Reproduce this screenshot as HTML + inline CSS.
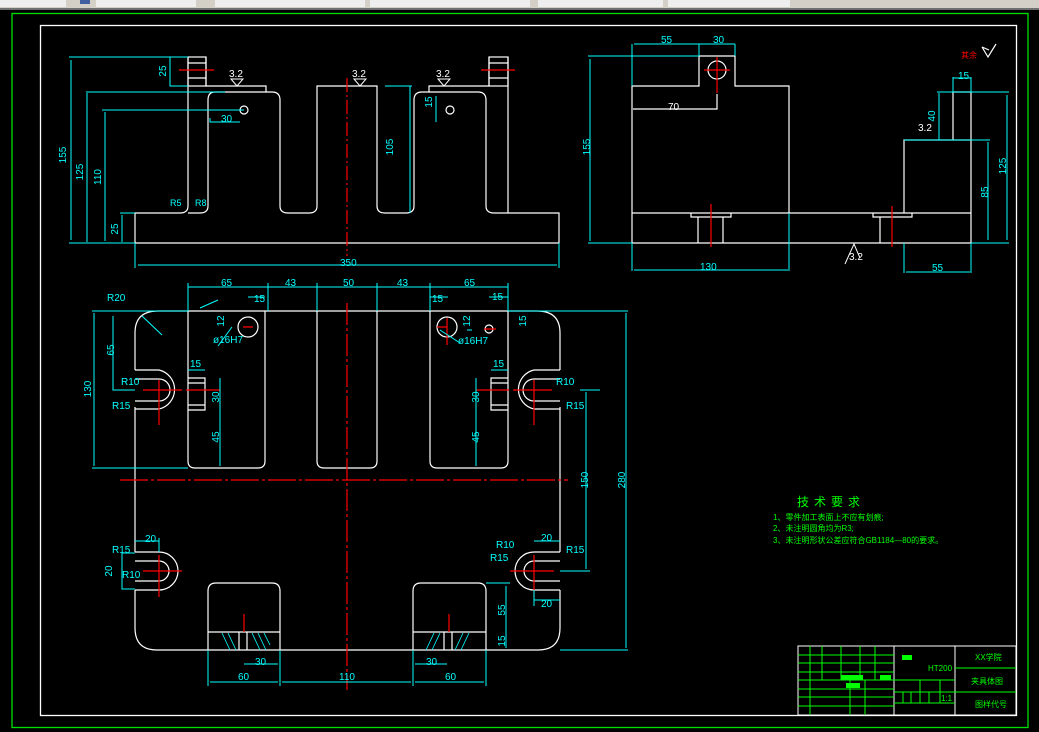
<!DOCTYPE html>
<html><head><meta charset="utf-8"><style>
html,body{margin:0;padding:0;background:#000;width:1039px;height:732px;overflow:hidden}
svg{display:block}
text{font-family:"Liberation Sans","Noto Sans CJK SC",sans-serif}
</style></head><body>
<svg width="1039" height="732" viewBox="0 0 1039 732" xmlns="http://www.w3.org/2000/svg">
<rect x="0" y="0" width="1039" height="732" fill="#000"/>
<rect x="0" y="0" width="1039" height="8" fill="#d4d0c8"/>
<rect x="0" y="0" width="66" height="7" fill="#eee"/>
<rect x="96" y="0" width="100" height="7" fill="#eee"/>
<rect x="215" y="0" width="150" height="7" fill="#eee"/>
<rect x="370" y="0" width="160" height="7" fill="#eee"/>
<rect x="538" y="0" width="125" height="7" fill="#eee"/>
<rect x="668" y="0" width="122" height="7" fill="#eee"/>
<rect x="80" y="0" width="10" height="4" fill="#4060a0"/>
<rect x="0" y="8" width="1039" height="2" fill="#707070"/>
<rect x="12" y="13.5" width="1016" height="714" fill="none" stroke="#00e000" stroke-width="1.3"/>
<rect x="40.5" y="25.5" width="976" height="690" fill="none" stroke="#fff" stroke-width="1.3"/>

<!-- FRONT VIEW -->
<g fill="none" stroke="#fff" stroke-width="1.2">
<path d="M135 243 H559 V213 H508 V57 M489 57 V86 H429 V92 H422 Q414 92 414 100 V206 Q414 213 406 213 H385 Q377 213 377 206 V86 H317 V206 Q317 213 309 213 H288 Q280 213 280 206 V100 Q280 92 272 92 H266 V86 H206 V57 M188 57 V206 Q188 213 180 213 H135 V243"/>
<path d="M208 100 Q208 92 215 92 H266 M208 100 V206 Q208 213 200 213 H188"/>
<path d="M486 100 Q486 92 478 92 H429 M486 100 V206 Q486 213 494 213 H508"/>
<rect x="188" y="57" width="18" height="29"/><rect x="489" y="57" width="19" height="29"/>
<line x1="188" y1="63" x2="206" y2="63"/><line x1="188" y1="78" x2="206" y2="78"/>
<line x1="489" y1="63" x2="508" y2="63"/><line x1="489" y1="78" x2="508" y2="78"/>
<circle cx="244" cy="110" r="4"/><circle cx="450" cy="110" r="4"/>
</g>
<g stroke="#f00" stroke-width="1.2">
<line x1="179" y1="70" x2="214" y2="70"/><line x1="481" y1="70" x2="515" y2="70"/>
<line x1="347" y1="78" x2="347" y2="256" stroke-dasharray="14,3,2,3"/>
</g>
<g fill="none" stroke="#0ff" stroke-width="1">
<path d="M69 57 H188 M71 60 V240 M86 92 H225 M87 93 V242 M102 110 H244 M105 112 V241 M120 213 H135 M122 215 V242 M69 243 H135 M170 57 V86 H188 M210 118 V122 H240 M410 86 V213 M385 86 H412 M436 96 V122 M135 243 V268 M559 243 V268 M138 265 H557"/>
</g>
<g fill="#0ff" font-size="10">
<text x="66" y="155" transform="rotate(-90 66 155)" text-anchor="middle">155</text>
<text x="83" y="172" transform="rotate(-90 83 172)" text-anchor="middle">125</text>
<text x="101" y="177" transform="rotate(-90 101 177)" text-anchor="middle">110</text>
<text x="118" y="229" transform="rotate(-90 118 229)" text-anchor="middle">25</text>
<text x="166" y="71" transform="rotate(-90 166 71)" text-anchor="middle">25</text>
<text x="393" y="147" transform="rotate(-90 393 147)" text-anchor="middle">105</text>
<text x="432" y="102" transform="rotate(-90 432 102)" text-anchor="middle">15</text>
<text x="221" y="122">30</text>
<text x="340" y="266">350</text>
<text x="170" y="206" font-size="9">R5</text><text x="195" y="206" font-size="9">R8</text>
</g>
<g fill="#fff" font-size="10"><text x="229" y="77">3.2</text><text x="352" y="77">3.2</text><text x="436" y="77">3.2</text></g>
<g fill="none" stroke="#fff"><path d="M231 79 L237 86 L243 79 Z M354 79 L360 86 L366 79 Z M438 79 L444 86 L450 79 Z"/></g>

<!-- SIDE VIEW -->
<g fill="none" stroke="#fff" stroke-width="1.2">
<path d="M632 243 V86 H699 V56 H735 V86 H789 V213 H971 M632 213 H789 M632 243 H972 M904 213 V140 H971 V243 M953 140 V92 H971 V140"/>
<path d="M691 213 V217 H731 V213 M698 217 V243 M723 217 V243 M873 213 V217 H912 V213 M880 217 V243"/>
<circle cx="717" cy="70" r="9"/>
<path d="M633 109 H717 V94"/>
</g>
<g stroke="#f00" stroke-width="1.2"><line x1="704" y1="70" x2="730" y2="70"/><line x1="717" y1="57" x2="717" y2="93"/><line x1="711" y1="204" x2="711" y2="247"/><line x1="892" y1="206" x2="892" y2="247"/></g>
<g fill="none" stroke="#0ff" stroke-width="1">
<path d="M588 56 H699 M590 59 V241 M588 243 H632 M632 44 V86 M699 44 V56 M735 44 V56 M634 44 H735 M632 243 V271 M789 213 V271 M634 270 H788 M904 243 V273 M971 243 V273 M906 272 H970 M953 77 V92 M971 77 V92 M953 78 H971 M937 92 H1009 M939 93 V140 M904 140 H990 M988 142 V240 M1007 95 V240 M971 243 H1009"/>
</g>
<g fill="#0ff" font-size="10">
<text x="661" y="43">55</text><text x="713" y="43">30</text>
<text x="590" y="147" transform="rotate(-90 590 147)" text-anchor="middle">155</text>
<text x="700" y="270">130</text><text x="932" y="271">55</text>
<text x="958" y="79">15</text>
<text x="935" y="116" transform="rotate(-90 935 116)" text-anchor="middle">40</text>
<text x="1006" y="166" transform="rotate(-90 1006 166)" text-anchor="middle">125</text>
<text x="988" y="192" transform="rotate(-90 988 192)" text-anchor="middle">85</text>
</g>
<text x="668" y="110" fill="#fff" font-size="10">70</text>
<text x="918" y="131" fill="#fff" font-size="10">3.2</text>
<text x="849" y="260" fill="#fff" font-size="10">3.2</text>
<path d="M845 264 L854 244 L860 258" fill="none" stroke="#fff"/>
<text x="961" y="58" fill="#f00" font-size="8" font-family="Noto Sans CJK SC">其余</text>
<path d="M982 47 L988 57 L996 44 M982 47 L989 50" fill="none" stroke="#fff" stroke-width="1.2"/>

<!-- PLAN VIEW -->
<g fill="none" stroke="#fff" stroke-width="1.2">
<path d="M135 370 V333 Q135 311 158 311 H537 Q560 311 560 333 V370 M560 407 V552 M560 590 V628 Q560 650 538 650 H157 Q135 650 135 628 V590 M135 552 V407"/>
<path d="M135 370 H159 A20 20 0 0 1 159 409 H135 M135 379 H159 A11 11 0 0 1 159 401 H135"/>
<path d="M560 370 H534 A20 20 0 0 0 534 409 H560 M560 379 H534 A11 11 0 0 0 534 401 H560"/>
<path d="M135 552 H159 A19 19 0 0 1 159 590 H135 M135 561 H159 A10 10 0 0 1 159 581 H135"/>
<path d="M560 552 H534 A19 19 0 0 0 534 590 H560 M560 561 H534 A10 10 0 0 0 534 581 H560"/>
<path d="M188 311 V461 Q188 468 195 468 H258 Q265 468 265 461 V311 M317 311 V461 Q317 468 324 468 H370 Q377 468 377 461 V311 M430 311 V461 Q430 468 437 468 H501 Q508 468 508 461 V311"/>
<path d="M208 650 V591 Q208 583 216 583 H272 Q280 583 280 591 V650 M208 632 H280 M413 650 V591 Q413 583 421 583 H478 Q486 583 486 591 V650 M413 632 H486"/>
<path d="M188 378 H205 V410 H188 M188 383 H205 M188 405 H205 M508 378 H491 V410 H508 M508 383 H491 M508 405 H491"/>
<circle cx="248" cy="327" r="10"/><circle cx="447" cy="327" r="10"/><circle cx="489" cy="329" r="4"/>
<path d="M239 632 V650 M247 632 V650 M444 632 V650 M452 632 V650"/>
</g>
<g fill="none" stroke="#0ff" stroke-width="0.8">
<path d="M222 633 L230 650 M228 633 L236 650 M252 633 L260 650 M258 633 L266 650 M264 633 L270 645 M426 650 L434 633 M432 650 L440 633 M455 650 L463 633 M461 650 L469 633"/>
</g>
<g stroke="#f00" stroke-width="1.2">
<line x1="120" y1="480" x2="568" y2="480" stroke-dasharray="28,3,3,3"/>
<line x1="347" y1="303" x2="347" y2="690" stroke-dasharray="22,3,3,3"/>
<path d="M143 390 H182 M159 380 V425 M186 390 H220 M552 390 H513 M534 380 V425 M509 390 H476 M143 571 H182 M159 555 V597 M554 571 H510 M534 555 V597 M243 327 H253 M447 327 H437 M484 329 H496 M244 632 V614 M449 632 V614 M447 318 V345"/>
</g>
<g fill="none" stroke="#0ff" stroke-width="1">
<path d="M188 287 H508 M188 283 V311 M268 283 V311 M317 283 V311 M377 283 V311 M430 283 V311 M508 283 V311 M248 297 H265 M430 297 H448 M489 297 H508 M92 311 H188 M94 313 V466 M92 468 H188 M113 316 V390 H135 M188 370 H205 M220 378 V466 M491 370 H508 M476 378 V466 M472 330 H467 M508 311 H628 M626 313 V648 M560 650 H628 M580 390 H600 M586 392 V569 M560 571 H590 M135 541 H159 M159 538 V552 M135 553 H122 V589 H135 M534 541 H560 M534 600 H560 M534 590 V606 M486 583 H510 M506 586 V648 M208 650 V686 M280 650 V686 M413 650 V686 M486 650 V686 M210 682 H278 M282 682 H411 M415 682 H484 M244 664 H278 M415 664 H447 M218 300 L200 308 M232 327 L218 346 M440 330 L460 343 M142 316 L162 335"/>
</g>
<g fill="#0ff" font-size="10">
<text x="221" y="286">65</text><text x="285" y="286">43</text><text x="343" y="286">50</text><text x="397" y="286">43</text><text x="464" y="286">65</text>
<text x="254" y="302">15</text><text x="432" y="302">15</text><text x="492" y="300">15</text>
<text x="107" y="301">R20</text>
<text x="224" y="321" transform="rotate(-90 224 321)" text-anchor="middle">12</text>
<text x="470" y="321" transform="rotate(-90 470 321)" text-anchor="middle">12</text>
<text x="526" y="321" transform="rotate(-90 526 321)" text-anchor="middle">15</text>
<text x="213" y="343">ø16H7</text><text x="458" y="344">ø16H7</text>
<text x="114" y="350" transform="rotate(-90 114 350)" text-anchor="middle">65</text>
<text x="91" y="389" transform="rotate(-90 91 389)" text-anchor="middle">130</text>
<text x="190" y="367">15</text><text x="493" y="367">15</text>
<text x="121" y="385">R10</text><text x="112" y="409">R15</text>
<text x="556" y="385">R10</text><text x="566" y="409">R15</text>
<text x="219" y="397" transform="rotate(-90 219 397)" text-anchor="middle">30</text>
<text x="479" y="397" transform="rotate(-90 479 397)" text-anchor="middle">30</text>
<text x="219" y="437" transform="rotate(-90 219 437)" text-anchor="middle">45</text>
<text x="479" y="437" transform="rotate(-90 479 437)" text-anchor="middle">45</text>
<text x="588" y="480" transform="rotate(-90 588 480)" text-anchor="middle">150</text>
<text x="625" y="480" transform="rotate(-90 625 480)" text-anchor="middle">280</text>
<text x="145" y="542">20</text><text x="112" y="553">R15</text><text x="122" y="578">R10</text>
<text x="112" y="571" transform="rotate(-90 112 571)" text-anchor="middle">20</text>
<text x="496" y="548">R10</text><text x="490" y="561">R15</text><text x="541" y="541">20</text><text x="566" y="553">R15</text><text x="541" y="607">20</text>
<text x="505" y="610" transform="rotate(-90 505 610)" text-anchor="middle">55</text>
<text x="505" y="641" transform="rotate(-90 505 641)" text-anchor="middle">15</text>
<text x="255" y="665">30</text><text x="426" y="665">30</text>
<text x="238" y="680">60</text><text x="339" y="680">110</text><text x="445" y="680">60</text>
</g>

<!-- TECH REQUIREMENTS -->
<g fill="#00ff00" font-family="Noto Sans CJK SC,sans-serif">
<text x="797" y="506" font-size="12" letter-spacing="5">技术要求</text>
<text x="773" y="520" font-size="8">1、零件加工表面上不应有划痕;</text>
<text x="773" y="531" font-size="8">2、未注明圆角均为R3;</text>
<text x="773" y="543" font-size="8">3、未注明形状公差应符合GB1184—80的要求。</text>
</g>

<!-- TITLE BLOCK -->
<g fill="none" stroke="#fff" stroke-width="1">
<rect x="798" y="646" width="218" height="69"/>
<line x1="894" y1="646" x2="894" y2="715"/><line x1="955" y1="646" x2="955" y2="715"/>
</g>
<g fill="none" stroke="#00ff00" stroke-width="1">
<path d="M798 655 H894 M798 663 H894 M798 672 H894 M798 680 H955 M798 689 H894 M798 697 H894 M798 706 H894 M955 668 H1016 M955 692 H1016 M894 692 H955 M894 703 H955"/>
<path d="M810 646 V680 M822 646 V680 M841 646 V680 M860 646 V680 M875 646 V680 M850 680 V715 M865 680 V715 M810 680 V715 M920 680 V703 M940 680 V703 M903 692 V703 M911 692 V703 M929 692 V703"/>
</g>
<g fill="#00ff00">
<rect x="902" y="655" width="10" height="5"/><rect x="841" y="675" width="22" height="5"/><rect x="880" y="675" width="11" height="5"/><rect x="846" y="683" width="14" height="5"/>
</g>
<g fill="#00ff00" font-size="8" font-family="Noto Sans CJK SC,sans-serif">
<text x="928" y="671">HT200</text>
<text x="975" y="660">XX学院</text>
<text x="971" y="684">夹具体图</text>
<text x="975" y="707">图样代号</text>
<text x="941" y="701">1:1</text>
</g>
</svg>
</body></html>
